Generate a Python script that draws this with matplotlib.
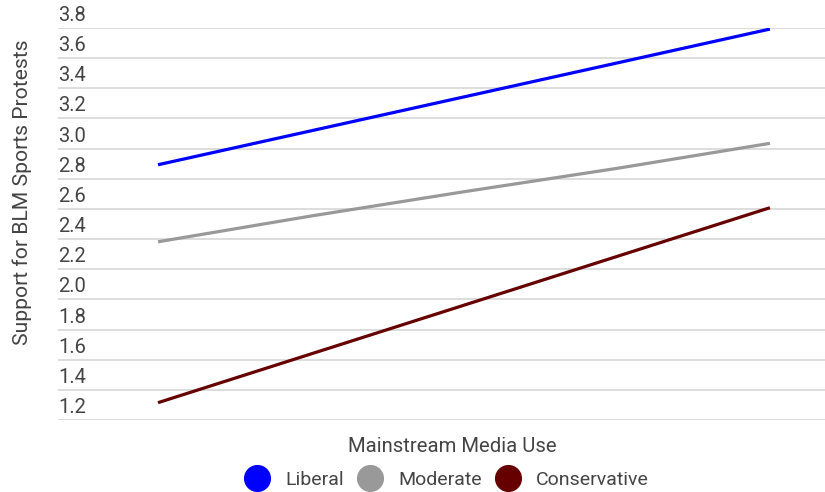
import numpy as np
import matplotlib
matplotlib.use("Agg")
import matplotlib.pyplot as plt
from matplotlib.lines import Line2D
import matplotlib.transforms as mtransforms

plt.rcParams['font.family'] = ['Roboto', 'DejaVu Sans']

# media use positions (low -> high)
x_two = [0, 4]
x_five = [0, 1, 2, 3, 4]

liberal = [2.893, 3.793]
moderate = [2.382, 2.553, 2.714, 2.869, 3.035]
conservative = [1.315, 2.608]

series_names = ['Liberal', 'Moderate', 'Conservative']
colors = ['#0000ff', '#999999', '#660000']
y_ticks = [1.2, 1.4, 1.6, 1.8, 2.0, 2.2, 2.4, 2.6, 2.8, 3.0, 3.2, 3.4, 3.6, 3.8]

text_col = '#444444'

fig = plt.figure(figsize=(8.25, 4.92), dpi=100)
ax = fig.add_axes([58 / 825, 1 - 420 / 492, 767 / 825, 392 / 492])

ax.plot(x_two, liberal, color=colors[0], lw=2.3, solid_capstyle='butt')
ax.plot(x_five, moderate, color=colors[1], lw=2.3, solid_capstyle='butt')
ax.plot(x_two, conservative, color=colors[2], lw=2.3, solid_capstyle='butt')

ax.set_xlim(-0.654, 4.36)
ax.set_ylim(1.2, 3.8)
ax.set_yticks(y_ticks)
ax.set_yticklabels([])
ax.set_xticks([])
ax.tick_params(length=0)
ax.grid(axis='y', color='#dddddd', lw=1.4)
ax.set_axisbelow(True)
for s in ax.spines.values():
    s.set_visible(False)

# tick labels sit just above their gridline, left aligned
trans = mtransforms.blended_transform_factory(ax.transAxes, ax.transData)
offset = mtransforms.offset_copy(trans, fig=fig, x=0, y=3, units='dots')
for t in y_ticks:
    ax.text(0, t, f"{t:.1f}", transform=offset, ha='left', va='bottom',
            fontsize=14.5, color=text_col, clip_on=False)

fig.text(22 / 825, 1 - 192 / 492, 'Support for BLM Sports Protests', rotation=90,
         ha='center', va='center', fontsize=15.2, color=text_col)
fig.text(452 / 825, 1 - 446 / 492, 'Mainstream Media Use', ha='center', va='center',
         fontsize=14.6, color=text_col)

handles = [Line2D([], [], ls='none', marker='o', markersize=18.5, color=c) for c in colors]
fig.legend(handles, series_names, loc='center', bbox_to_anchor=(447 / 825, 1 - 480 / 492),
           ncol=3, frameon=False, fontsize=14.0, labelcolor=text_col,
           handletextpad=0.85, columnspacing=0.75, handlelength=1.2)

fig.savefig('out.png', dpi=100)
